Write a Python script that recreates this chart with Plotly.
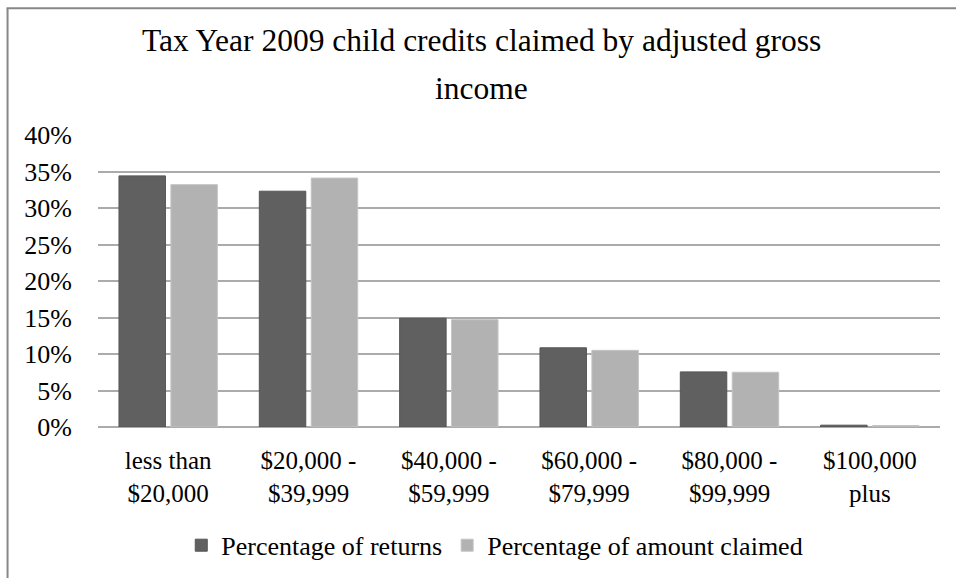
import plotly.graph_objects as go

categories = ["less than<br>$20,000", "$20,000 -<br>$39,999", "$40,000 -<br>$59,999",
              "$60,000 -<br>$79,999", "$80,000 -<br>$99,999", "$100,000<br>plus"]
pct_returns = [34.4, 32.3, 14.9, 10.85, 7.55, 0.25]
pct_amount = [33.2, 34.1, 14.7, 10.5, 7.5, 0.2]
series_names = ["Percentage of returns", "Percentage of amount claimed"]
y_ticks = [0, 5, 10, 15, 20, 25, 30, 35, 40]
y_tick_text = [f"{v}%" for v in y_ticks]

W, H = 956, 578
L, R, T, B = 98, 940.5, 135, 427.5


def px(x):
    return (x - L) / (R - L)


def py(y):
    return (B - y) / (B - T)


FONT = "Liberation Serif"

fig = go.Figure()
fig.add_trace(go.Bar(x=categories, y=pct_returns, name=series_names[0],
                     marker=dict(color="#606060", line=dict(color="#555555", width=1))))
fig.add_trace(go.Bar(x=categories, y=pct_amount, name=series_names[1],
                     marker=dict(color="#b2b2b2", line=dict(color="#c4c4c4", width=1))))

fig.update_layout(
    width=W, height=H,
    margin=dict(l=L, r=W - R, t=T, b=H - B, autoexpand=False),
    paper_bgcolor="white", plot_bgcolor="white",
    barmode="group", bargap=0.26, bargroupgap=0.105,
    font=dict(family=FONT, color="black", size=22),
    showlegend=True,
    legend=dict(orientation="h", x=px(495), xanchor="center", y=py(546), yanchor="middle",
                font=dict(family=FONT, size=26, color="black"), bgcolor="rgba(0,0,0,0)",
                itemclick=False),
)
fig.update_xaxes(showgrid=False, showline=False, ticks="outside", ticklen=11,
                 tickcolor="rgba(0,0,0,0)", tickfont=dict(family=FONT, size=25, color="black"))
fig.update_yaxes(range=[0, 40], tickvals=y_ticks, ticktext=y_tick_text,
                 showgrid=True, gridcolor="#ababab", gridwidth=2,
                 zeroline=True, zerolinecolor="#ababab", zerolinewidth=2,
                 ticks="outside", ticklen=20, tickcolor="rgba(0,0,0,0)",
                 tickfont=dict(family=FONT, size=26, color="black"))

fig.add_annotation(text="Tax Year 2009 child credits claimed by adjusted gross",
                   x=px(482), y=py(40), xref="paper", yref="paper", showarrow=False,
                   xanchor="center", yanchor="middle", font=dict(family=FONT, size=31.5, color="black"))
fig.add_annotation(text="income", x=px(482), y=py(88), xref="paper", yref="paper", showarrow=False,
                   xanchor="center", yanchor="middle", font=dict(family=FONT, size=31.5, color="black"))

fig.add_shape(type="line", xref="paper", yref="paper", x0=px(7.5), x1=px(7.5), y0=py(8), y1=py(600),
              line=dict(color="#878787", width=2))
fig.add_shape(type="line", xref="paper", yref="paper", x0=px(6.5), x1=px(970), y0=py(8), y1=py(8),
              line=dict(color="#878787", width=2))

fig.write_html("out.html")
